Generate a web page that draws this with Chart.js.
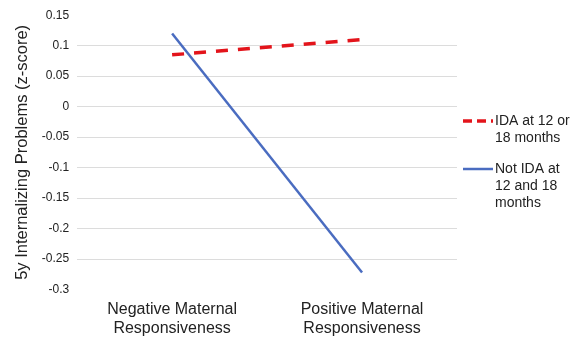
<!DOCTYPE html>
<html>
<head>
<meta charset="utf-8">
<script src="https://cdn.jsdelivr.net/npm/chart.js@4"></script>
<style>
  html, body { margin: 0; padding: 0; background: #fff; }
  #wrap { width: 573px; height: 347px; }
</style>
</head>
<body>
<div id="wrap"><canvas id="chart" width="573" height="347"></canvas></div>
<script>
const categories = [['Negative Maternal', 'Responsiveness'], ['Positive Maternal', 'Responsiveness']];
const idaValues = [0.085, 0.11];
const notIdaValues = [0.12, -0.272];
const seriesNames = [['IDA at 12 or', '18 months'], ['Not IDA at', '12 and 18', 'months']];
const yTicks = [0.15, 0.1, 0.05, 0, -0.05, -0.1, -0.15, -0.2, -0.25, -0.3];

const font = '"Liberation Sans", Arial, sans-serif';

// legend at the right, text wrapped like the original
const sideLegend = {
    id: 'sideLegend',
    afterDraw(chart) {
        const { ctx, chartArea } = chart;
        const x0 = chartArea.right + 6;
        const rows = [
            { ds: chart.data.datasets[0], y: 121 },
            { ds: chart.data.datasets[1], y: 169 }
        ];
        ctx.save();
        rows.forEach((row, i) => {
            ctx.beginPath();
            ctx.strokeStyle = row.ds.borderColor;
            ctx.lineWidth = row.ds.borderWidth;
            ctx.setLineDash(i === 0 ? [9, 5] : []);
            ctx.moveTo(x0, row.y);
            ctx.lineTo(x0 + 30, row.y);
            ctx.stroke();
            ctx.setLineDash([]);
            ctx.fillStyle = '#222';
            ctx.font = '14px ' + font;
            ctx.textBaseline = 'middle';
            seriesNames[i].forEach((line, k) => {
                ctx.fillText(line, x0 + 32, row.y + k * 17);
            });
        });
        ctx.restore();
    }
};

new Chart(document.getElementById('chart'), {
    type: 'line',
    data: {
        labels: categories,
        datasets: [{
            label: 'IDA at 12 or 18 months',
            data: idaValues,
            borderColor: '#e3141b',
            borderWidth: 3.5,
            borderDash: [12, 10],
            pointRadius: 0,
            fill: false
        }, {
            label: 'Not IDA at 12 and 18 months',
            data: notIdaValues,
            borderColor: '#4a6cc0',
            borderWidth: 2.5,
            pointRadius: 0,
            fill: false
        }]
    },
    options: {
        responsive: false,
        animation: false,
        layout: { padding: { top: 2, right: 116, left: 9, bottom: 7 } },
        plugins: {
            legend: { display: false },
            tooltip: { enabled: false }
        },
        scales: {
            x: {
                offset: true,
                grid: { display: false },
                border: { display: false },
                ticks: {
                    color: '#222',
                    font: { family: font, size: 16 },
                    padding: 2,
                    maxRotation: 0
                }
            },
            y: {
                min: -0.3,
                max: 0.15,
                afterBuildTicks(axis) {
                    axis.ticks = yTicks.map(v => ({ value: v }));
                },
                grid: {
                    // no line at the top and bottom of the range
                    color: c => (c.tick && (c.tick.value === 0.15 || c.tick.value === -0.3)) ? 'rgba(0,0,0,0)' : '#dcdcdc',
                    lineWidth: 1,
                    drawTicks: false
                },
                border: { display: false },
                ticks: {
                    color: '#222',
                    font: { family: font, size: 12 },
                    padding: 8,
                    callback: v => String(Math.round(v * 100) / 100)
                },
                title: {
                    display: true,
                    text: '5y Internalizing Problems (z-score)',
                    color: '#222',
                    font: { family: font, size: 16.5 },
                    padding: { bottom: 1 }
                }
            }
        }
    },
    plugins: [sideLegend]
});
</script>
</body>
</html>
